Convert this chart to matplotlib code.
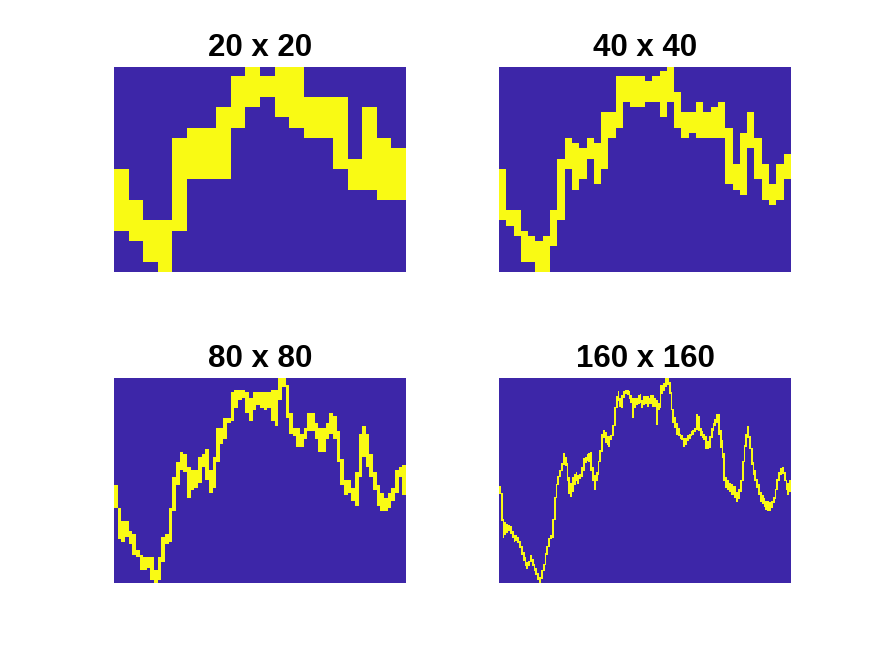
import numpy as np
import matplotlib
matplotlib.use("Agg")
import matplotlib.pyplot as plt
from matplotlib.colors import ListedColormap

# grid sizes and panel titles
sizes = [20, 40, 80, 160]
titles = ["20 x 20", "40 x 40", "80 x 80", "160 x 160"]

# yellow span in each column (first and last row, row 0 at the top)
top20 = [10, 13, 15, 15, 7, 6, 6, 4, 1, 0, 1, 0, 0, 3, 3, 3, 9, 4, 7, 8]
bot20 = [15, 16, 18, 19, 15, 10, 10, 10, 5, 3, 2, 4, 5, 6, 6, 9, 11, 11, 12, 12]

top40 = [20, 28, 28, 32, 33, 34, 33, 28, 18, 14, 15, 16, 14, 15, 9, 9, 2, 2, 2, 2,
         3, 2, 1, 0, 5, 9, 9, 7, 9, 8, 7, 12, 19, 13, 9, 14, 19, 23, 19, 17]
bot40 = [29, 30, 32, 37, 37, 39, 39, 34, 29, 19, 23, 21, 17, 22, 19, 13, 11, 6, 7, 7,
         6, 6, 9, 6, 11, 13, 12, 13, 13, 13, 13, 22, 23, 24, 15, 21, 25, 26, 25, 21]

top80 = [42, 51, 56, 56, 60, 61, 67, 69, 70, 70, 70, 75, 70, 62, 61, 51, 39, 33, 29, 30,
         35, 36, 36, 31, 30, 28, 36, 31, 20, 20, 16, 16, 6, 5, 5, 5, 6, 8, 6, 6,
         6, 6, 6, 5, 5, 0, 0, 3, 14, 20, 20, 22, 20, 14, 14, 18, 20, 20, 18, 14,
         15, 21, 32, 40, 40, 43, 37, 22, 19, 22, 30, 37, 42, 45, 47, 45, 43, 36, 35, 34]
bot80 = [50, 62, 63, 61, 64, 68, 69, 74, 74, 73, 78, 79, 78, 71, 64, 63, 51, 41, 35, 36,
         46, 43, 42, 40, 34, 39, 44, 42, 32, 25, 23, 17, 16, 11, 8, 7, 13, 16, 12, 10,
         11, 12, 11, 16, 18, 8, 3, 15, 21, 22, 26, 26, 23, 20, 20, 23, 28, 28, 23, 21,
         23, 32, 41, 45, 44, 47, 49, 38, 30, 34, 38, 43, 49, 51, 51, 50, 47, 44, 38, 45]

top160 = [85, 90, 110, 113, 114, 115, 116, 120, 123, 123,
          124, 127, 131, 136, 140, 144, 143, 138, 141, 145,
          148, 152, 155, 150, 145, 137, 131, 125, 123, 110,
          93, 83, 77, 72, 67, 59, 62, 67, 78, 82,
          78, 75, 74, 76, 75, 70, 63, 62, 60, 59,
          58, 70, 76, 74, 65, 57, 44, 41, 43, 46,
          46, 45, 37, 23, 15, 11, 16, 14, 11, 10,
          10, 11, 14, 16, 16, 16, 14, 13, 18, 15,
          15, 15, 16, 14, 14, 16, 18, 20, 6, 6,
          5, 1, 0, 4, 12, 25, 31, 36, 40, 44,
          45, 47, 47, 45, 44, 42, 41, 40, 29, 30,
          40, 42, 44, 46, 50, 46, 40, 36, 33, 29,
          29, 41, 49, 59, 78, 80, 82, 83, 85, 85,
          89, 87, 80, 65, 53, 44, 38, 46, 55, 66,
          72, 79, 83, 89, 92, 94, 96, 96, 97, 96,
          93, 87, 79, 74, 71, 70, 74, 80, 82, 80]
bot160 = [90, 111, 124, 122, 120, 119, 121, 124, 127, 126,
          128, 132, 137, 142, 146, 148, 146, 143, 146, 150,
          153, 157, 159, 156, 150, 145, 137, 131, 125, 124,
          110, 93, 83, 77, 72, 67, 68, 80, 90, 92,
          88, 83, 80, 82, 78, 77, 72, 66, 64, 65,
          72, 80, 87, 80, 75, 65, 57, 46, 50, 52,
          53, 48, 45, 37, 23, 18, 22, 23, 15, 12,
          13, 16, 19, 31, 23, 21, 20, 19, 23, 21,
          20, 22, 20, 20, 22, 22, 36, 25, 23, 12,
          10, 7, 5, 12, 25, 35, 39, 44, 45, 47,
          48, 53, 52, 49, 47, 45, 44, 42, 40, 41,
          45, 46, 48, 55, 55, 54, 46, 41, 37, 35,
          44, 54, 62, 80, 85, 87, 88, 91, 91, 93,
          96, 94, 88, 80, 65, 53, 46, 55, 67, 75,
          80, 85, 91, 96, 98, 100, 102, 103, 103, 101,
          97, 94, 87, 80, 75, 74, 80, 87, 91, 88]

tops = [top20, top40, top80, top160]
bots = [bot20, bot40, bot80, bot160]

# parula end colours
cmap = ListedColormap([(0.2422, 0.1504, 0.6603), (0.9769, 0.9839, 0.0805)])

fig = plt.figure(figsize=(8.75, 6.56), dpi=100)

# axes boxes in figure fractions (MATLAB-like subplot layout)
lefts = [0.1303, 0.5703, 0.1303, 0.5703]
bottoms = [0.5854, 0.5854, 0.1113, 0.1113]

for i in range(4):
    n = sizes[i]
    img = np.zeros((n, n))
    for c in range(n):
        img[tops[i][c]:bots[i][c] + 1, c] = 1
    ax = fig.add_axes([lefts[i], bottoms[i], 0.3337, 0.3125])
    ax.imshow(img, cmap=cmap, vmin=0, vmax=1, aspect='auto', interpolation='nearest')
    ax.set_title(titles[i], fontsize=22.5, fontweight='bold',
                 family='Liberation Sans', pad=8)
    ax.axis('off')

fig.savefig("out.png", dpi=100)
